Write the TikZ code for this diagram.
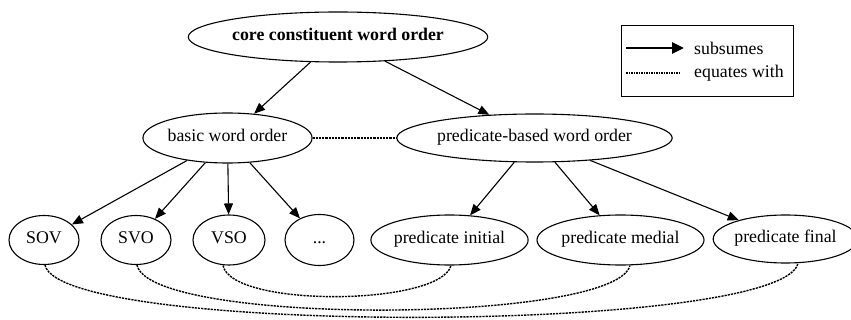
\documentclass[tikz,border=0pt]{standalone}
\usepackage{fontspec}
\setmainfont{Liberation Serif}
\usetikzlibrary{shapes.geometric,arrows.meta}
\begin{document}
\begin{tikzpicture}[x=1pt,y=-1pt,
  every node/.style={font=\fontsize{17.8}{20}\selectfont},
  state/.style={draw, ellipse, inner sep=0pt, line width=1.1pt, text height=12pt, text depth=4pt},
  subsume/.style={line width=1.1pt, -{Triangle[length=11pt,width=9pt]}},
  equate/.style={line width=1.4pt, dash pattern=on 2.2pt off 1pt},
  lbl/.style={anchor=west, inner sep=0pt}]
\useasboundingbox (0,0) rectangle (851,320);
% nodes
\node[state, minimum width=230pt, minimum height=50pt, font=\fontsize{17.8}{20}\selectfont\bfseries] (core) at (338,37) {core constituent word order};
\node[state, minimum width=153pt, minimum height=50pt] (basic) at (227.5,138) {basic word order};
\node[state, minimum width=229pt, minimum height=48pt] (pbased) at (534.5,138) {predicate-based word order};
\node[state, minimum width=70pt, minimum height=49pt] (sov) at (44,240) {SOV};
\node[state, minimum width=70pt, minimum height=49pt] (svo) at (136,240) {SVO};
\node[state, minimum width=72pt, minimum height=50pt] (vso) at (229,240) {VSO};
\node[state, minimum width=69pt, minimum height=51pt] (etc) at (319.5,240) {...};
\node[state, minimum width=145pt, minimum height=50pt] (pinit) at (449.5,240) {predicate initial};
\node[state, minimum width=151pt, minimum height=50pt] (pmed) at (620.5,240) {predicate medial};
\node[state, minimum width=129pt, minimum height=48pt] (pfin) at (785.5,239) {predicate final};
% subsumes edges
\draw[subsume] (core) -- (basic);
\draw[subsume] (core) -- (pbased);
\draw[subsume] (basic) -- (sov);
\draw[subsume] (basic) -- (svo);
\draw[subsume] (basic) -- (vso);
\draw[subsume] (basic) -- (etc);
\draw[subsume] (pbased) -- (pinit);
\draw[subsume] (pbased) -- (pmed);
\draw[subsume] (pbased) -- (pfin);
% equates edges
\draw[equate] (basic) -- (pbased);
\draw[equate] ([xshift=-6pt]vso.south) .. controls (232,308) and (440,306) .. ([xshift=1.5pt]pinit.south);
\draw[equate] ([xshift=1pt]svo.south) .. controls (150,326) and (615,324) .. ([xshift=9.5pt]pmed.south);
\draw[equate] ([xshift=1pt]sov.south) .. controls (60,336) and (780,334) .. ([xshift=12.5pt]pfin.south);
% legend
\node[draw, line width=1pt, minimum width=172pt, minimum height=71pt, inner sep=0pt] (legend) at (707,61.5) {};
\coordinate (a1) at (626,48);
\coordinate (a2) at (684,48);
\coordinate (d1) at (626,73);
\coordinate (d2) at (681,73);
\draw[line width=2.8pt, -{Triangle[length=12pt,width=11pt]}] (a1) -- (a2);
\draw[line width=1.2pt, dash pattern=on 1.5pt off 1pt] (d1) -- (d2);
\node[lbl] (lsub) at (694,48) {subsumes};
\node[lbl] (leq) at (694,73) {equates with};
\end{tikzpicture}
\end{document}
